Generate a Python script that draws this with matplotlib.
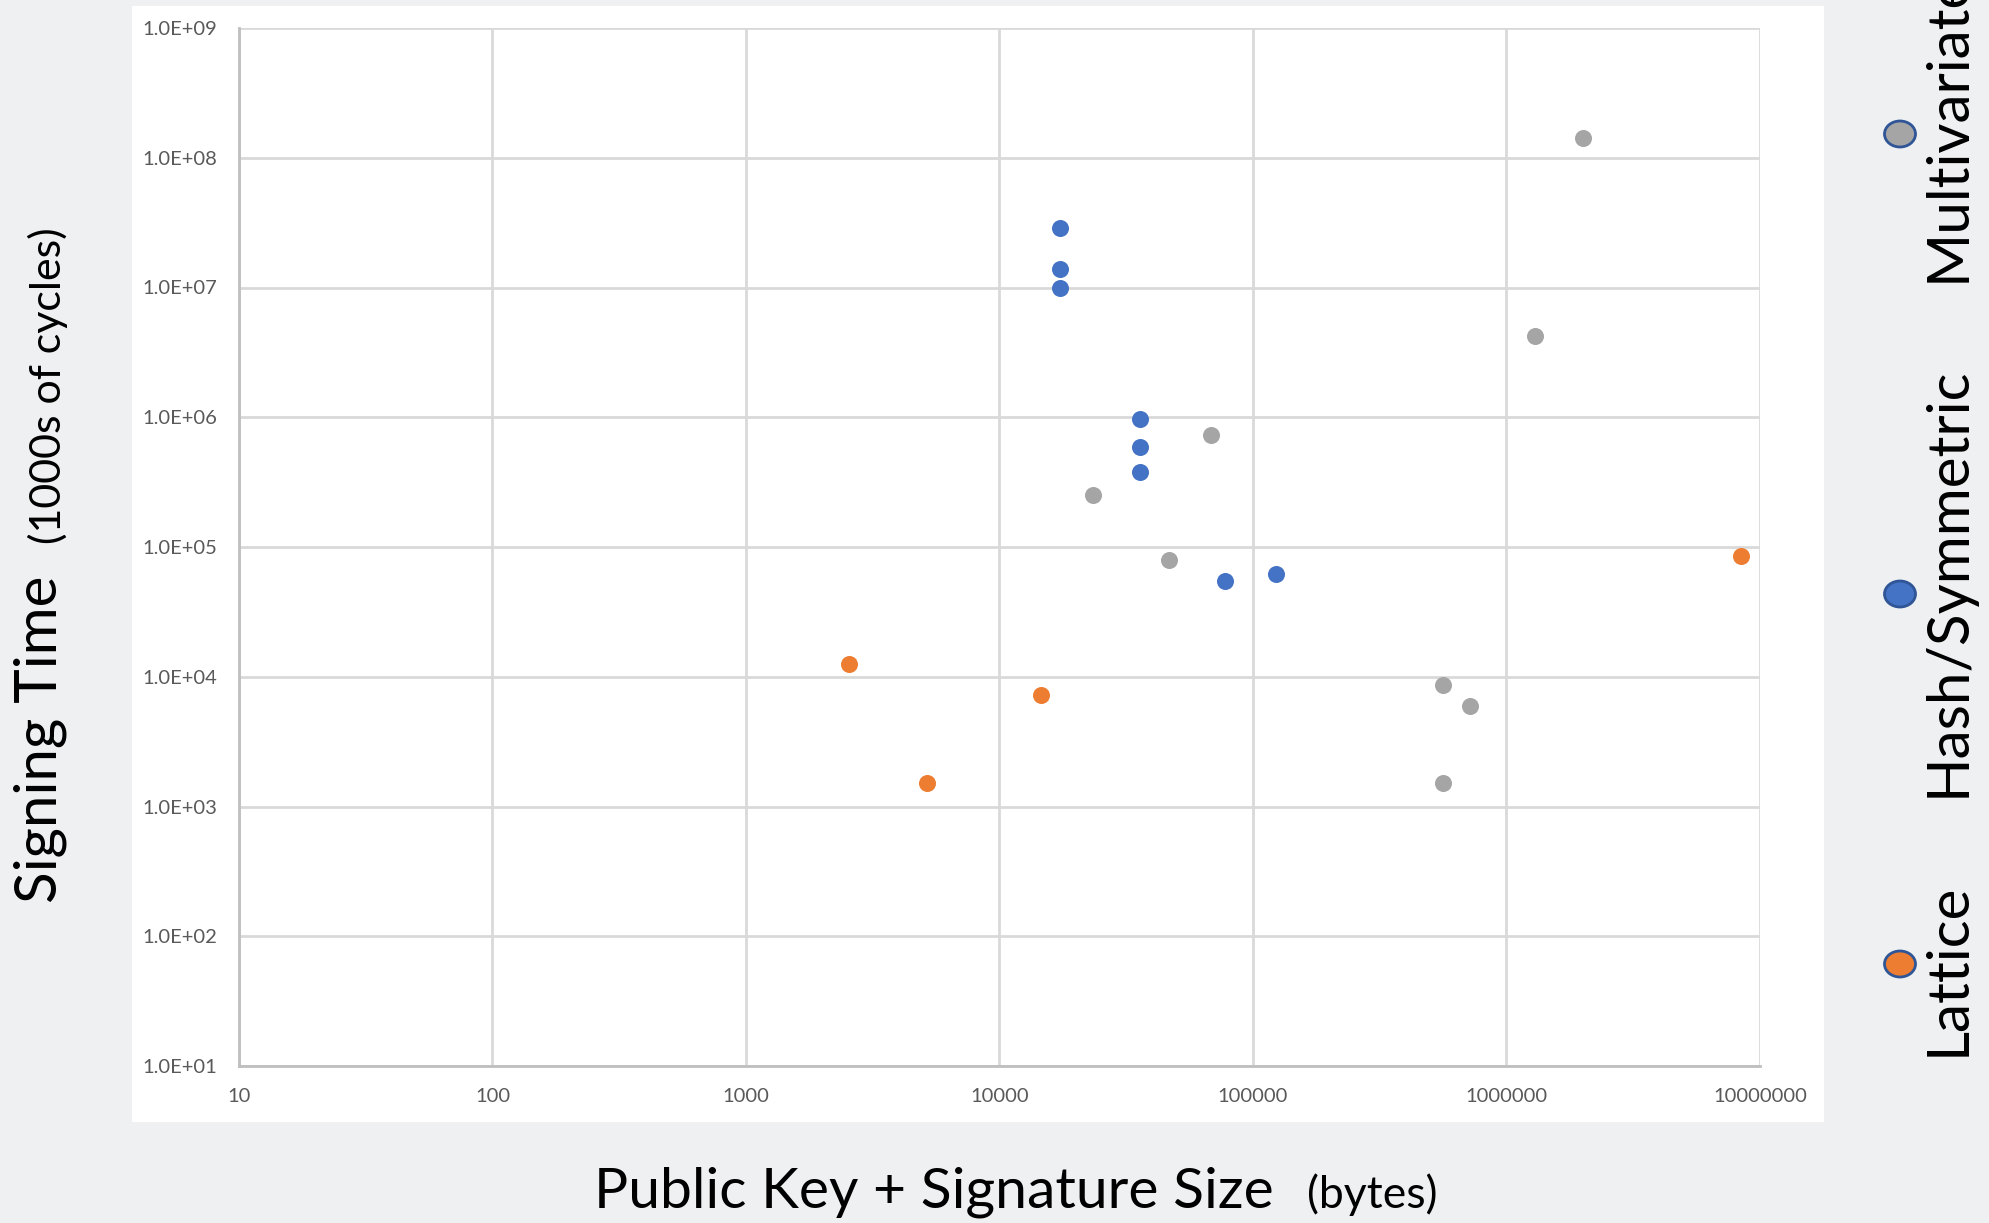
import numpy as np
import matplotlib
matplotlib.use("Agg")
import matplotlib.pyplot as plt
from matplotlib.patches import Rectangle, Ellipse
from matplotlib.ticker import FuncFormatter, FixedLocator, NullLocator

plt.rcParams['font.family'] = ['Lato', 'DejaVu Sans']

# --- data (bytes, 1000s of cycles) ---
lattice_size = [2550, 5160, 14600, 8430000]
lattice_time = [12600, 1520, 7180, 85500]

hash_size = [17300, 17300, 17300, 35800, 35800, 35800, 77400, 123000]
hash_time = [28500000, 13900000, 9900000, 970000, 593000, 378000, 54500, 62400]

mv_size = [2000000, 1300000, 68200, 23400, 46600, 562000, 716000, 562000]
mv_time = [141000000, 4200000, 726000, 252000, 79800, 8600, 6000, 1520]

groups = ["Lattice", "Hash/Symmetric", "Multivariate"]
colors = ["#ED7D31", "#4472C4", "#A5A5A5"]

x_ticks = [10, 100, 1000, 10000, 100000, 1000000, 10000000]
y_ticks = [1e1, 1e2, 1e3, 1e4, 1e5, 1e6, 1e7, 1e8, 1e9]

W, H = 1990, 1223
fig = plt.figure(figsize=(W / 100, H / 100), dpi=100)
fig.patch.set_facecolor("#eef0f1")

# white chart panel (behind the axes)
panel = fig.add_axes([132 / W, 1 - 1122 / H, (1824 - 132) / W, (1122 - 6) / H], zorder=-5)
panel.set_facecolor("white")
panel.set_xticks([])
panel.set_yticks([])
for sp in panel.spines.values():
    sp.set_visible(False)

ax = fig.add_axes([239 / W, 1 - 1066 / H, (1760 - 239) / W, (1066 - 28) / H])
ax.set_xscale("log")
ax.set_yscale("log")
ax.set_xlim(10, 1e7)
ax.set_ylim(1e1, 1e9)
ax.set_facecolor("white")

ax.xaxis.set_major_locator(FixedLocator(x_ticks))
ax.yaxis.set_major_locator(FixedLocator(y_ticks))
ax.xaxis.set_minor_locator(NullLocator())
ax.yaxis.set_minor_locator(NullLocator())
ax.xaxis.set_major_formatter(FuncFormatter(lambda v, p: f"{int(round(v))}"))
ax.yaxis.set_major_formatter(FuncFormatter(lambda v, p: f"{v:.1E}"))
ax.tick_params(length=0, labelsize=14.5, labelcolor="#595959", pad=16)

ax.grid(True, color="#d9d9d9", linewidth=2)
ax.set_axisbelow(True)
for side in ["top", "right"]:
    ax.spines[side].set_visible(False)
for side in ["left", "bottom"]:
    ax.spines[side].set_color("#bfbfbf")
    ax.spines[side].set_linewidth(2)

ax.scatter(lattice_size, lattice_time, s=150, color=colors[0], linewidths=0, zorder=3)
ax.scatter(hash_size, hash_time, s=150, color=colors[1], linewidths=0, zorder=3)
ax.scatter(mv_size, mv_time, s=150, color=colors[2], linewidths=0, zorder=3)

# axis titles
fig.text(934 / W, 1 - 1208 / H, "Public Key + Signature Size", fontsize=41,
         ha="center", va="baseline", color="black")
fig.text(1372 / W, 1 - 1208 / H, "(bytes)", fontsize=32,
         ha="center", va="baseline", color="black")
fig.text(67 / W, 1 - 739 / H, "Signing Time", fontsize=42, rotation=90,
         ha="right", va="center", color="black")
fig.text(68 / W, 1 - 386 / H, "(1000s of cycles)", fontsize=31, rotation=90,
         ha="right", va="center", color="black")

# legend on the right
leg_bottom = [1056, 797, 282]
leg_marker = [964, 594, 134]
for name, col, yb, ym in zip(groups, colors, leg_bottom, leg_marker):
    fig.patches.append(Ellipse((1900 / W, 1 - ym / H), 31 / W, 26 / H,
                               transform=fig.transFigure, facecolor=col,
                               edgecolor="#2F5597", linewidth=2, zorder=3))
    fig.text(1922 / W, 1 - yb / H, name, fontsize=42, rotation=90,
             ha="left", va="bottom", color="black")

fig.savefig("out.png", dpi=100, facecolor=fig.get_facecolor())
